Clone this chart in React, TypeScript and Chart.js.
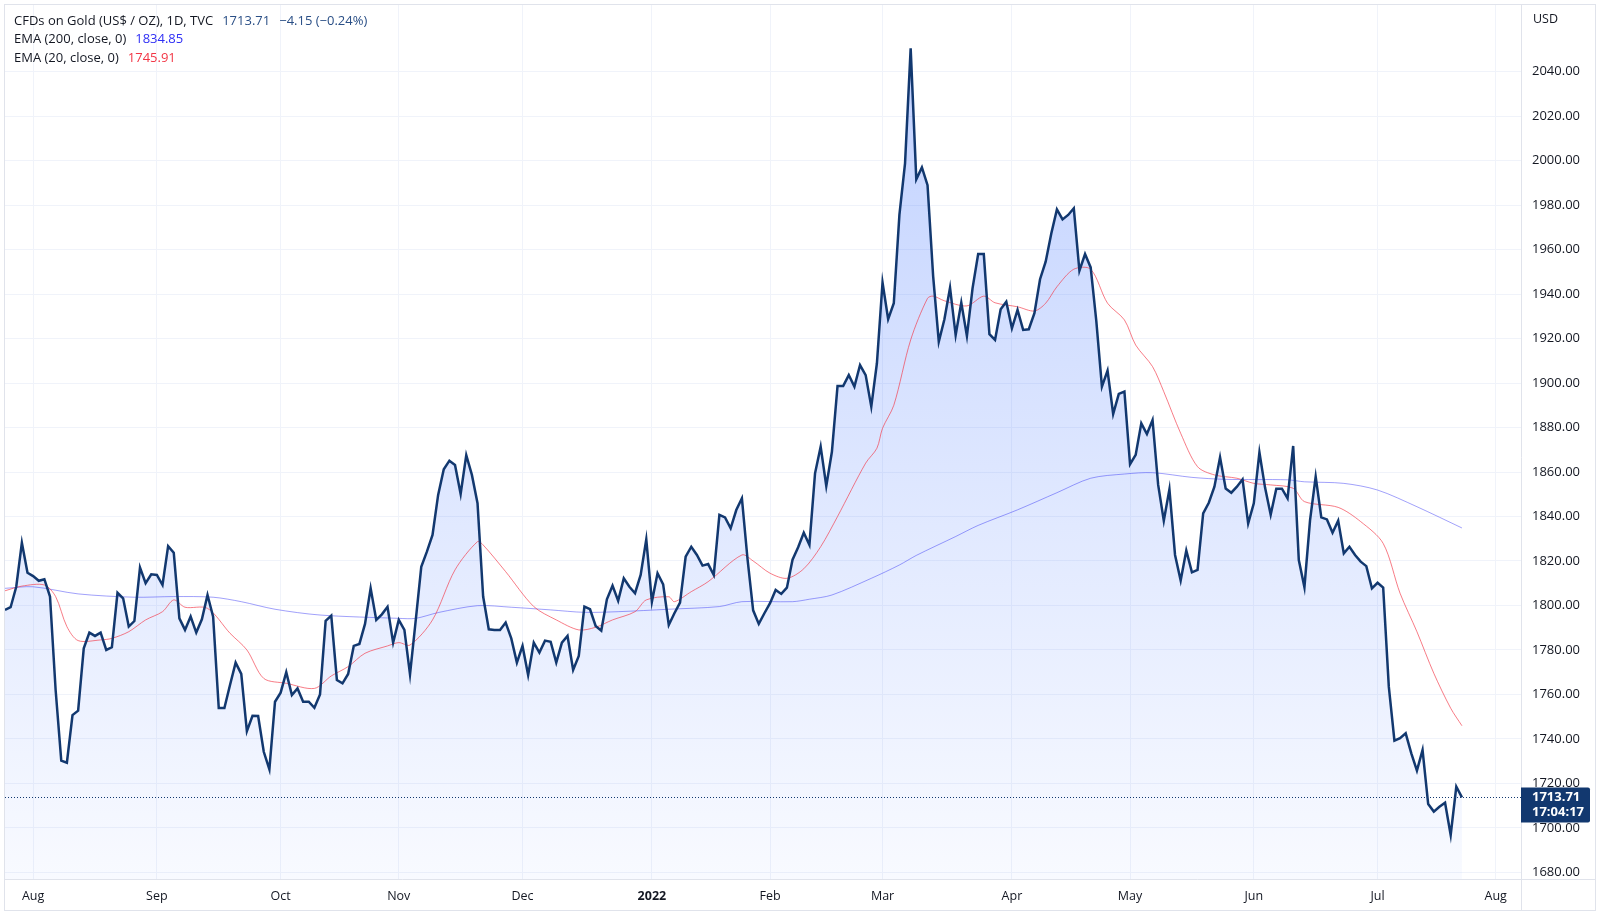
import { useEffect, useRef } from "react";
import { Chart, registerables } from "chart.js";

Chart.register(...registerables);

// ---- data (trading-day index 0 = Mon 2 Aug 2021) ----
const START_DAY = -5;
const closeValues = [
  1798, 1799.2, 1808.4, 1828.2, 1814.7,
  1813.2, 1811.1, 1811.8, 1804, 1762, 1730.2, 1729.3, 1750.7, 1752.7, 1780.7,
  1787.8, 1786.3, 1787.8, 1780, 1781.2, 1805.7, 1803.2, 1790.5, 1793, 1817,
  1810, 1814, 1813.7, 1809.2, 1826.7, 1823.7, 1794.2, 1789, 1795, 1787.8,
  1793.8, 1804.7, 1795, 1753.9, 1753.9, 1764.2, 1774.3, 1769.2, 1743.5, 1750.4,
  1750.3, 1734.2, 1726.3, 1756.7, 1760.8, 1770, 1759.7, 1762.7, 1756.7, 1756.7,
  1754, 1760, 1793.1, 1795.4, 1766.5, 1765, 1769.2, 1781.8, 1782.7, 1791.7,
  1807.7, 1793.5, 1796, 1799.4, 1783.3, 1793.5, 1789, 1769, 1793, 1817.4,
  1824.2, 1831.7, 1849.7, 1861.2, 1865.1, 1863.2, 1850.1, 1867.6, 1858.7, 1846,
  1804, 1789.3, 1789, 1789, 1792.3, 1785.2, 1774.3, 1781.8, 1768.7, 1783.3,
  1778.8, 1784.2, 1783.7, 1774.3, 1783.3, 1786.3, 1771, 1777.3, 1799.5, 1798.3,
  1790.8, 1788.7, 1802.8, 1808.9, 1802.1, 1812.2, 1808.4, 1805.5, 1813.7, 1829.7,
  1801.7, 1814.5, 1809.5, 1791.2, 1796.5, 1801.3, 1821.9, 1826.4, 1822.7, 1817.9,
  1818.6, 1813.7, 1840.7, 1839.6, 1834.7, 1842.9, 1848.2, 1820.8, 1797.8, 1791.7,
  1796.5, 1801, 1807, 1805.2, 1808, 1820.6, 1826.2, 1832.7, 1827.2, 1859.4,
  1871.4, 1853.7, 1869.1, 1898.7, 1898.7, 1903.6, 1898.4, 1908.1, 1903.6, 1889.4,
  1908.9, 1945.2, 1928.7, 1935.9, 1975.6, 1998.8, 2050.5, 1991.6, 1997, 1989,
  1948, 1918.6, 1928.7, 1942.9, 1921.6, 1936.2, 1921.2, 1942.6, 1958, 1958,
  1922, 1919.4, 1933.2, 1936.6, 1924.6, 1932.9, 1923.9, 1924.2, 1931.4, 1946.7,
  1954.6, 1967.3, 1978.1, 1973.6, 1975.6, 1978.6, 1950.5, 1958, 1952, 1928,
  1898.4, 1905.6, 1886.1, 1895.1, 1896.2, 1863.5, 1867.7, 1881.9, 1877.1, 1883.4,
  1854.2, 1838.1, 1852.2, 1822.7, 1811.2, 1824.7, 1814.9, 1816, 1841.4, 1846.2,
  1853.4, 1866.6, 1852.6, 1850.7, 1853.4, 1856.7, 1836.9, 1845.9, 1868.8, 1853,
  1840.8, 1852.5, 1852.5, 1848.2, 1871.7, 1820.4, 1808.2, 1838.4, 1857.9, 1839.6,
  1838.7, 1832.7, 1838.1, 1823.4, 1826.4, 1822.7, 1819.7, 1817.7, 1807.7, 1810.2,
  1808, 1763.5, 1739.2, 1740.3, 1742.5, 1733.5, 1725.7, 1735, 1710.7, 1707.3,
  1709.5, 1711.3, 1696.8, 1718.5, 1713.71,
];

const ema200Days = [-5, 0, 8, 18, 25, 32, 37, 43, 51, 65, 68, 72, 79, 85, 92, 98, 104, 113, 122, 126, 135, 138, 142, 149, 154, 157, 164, 168, 175, 182, 188, 194, 199, 206, 212, 223, 226, 233, 239, 246, 254];
const ema200Values = [1807.7, 1808.4, 1805.2, 1803.7, 1804, 1803.7, 1801.7, 1798.3, 1795.7, 1794.2, 1794.2, 1796.8, 1799.9, 1799.2, 1798, 1796.9, 1797.2, 1798.3, 1799.5, 1801.7, 1801.7, 1802.8, 1804.7, 1812.2, 1818.2, 1822.5, 1831, 1836, 1843, 1850.7, 1857.2, 1859.1, 1859.7, 1857.6, 1856.7, 1856.5, 1855.6, 1854.9, 1851.9, 1844.4, 1834.85];

const ema20Days = [-5, -2, 2, 4, 6, 8, 12, 14, 17, 20, 23, 25, 27, 31, 35, 38, 41, 45, 50, 53, 56, 59, 63, 65, 67, 71, 75, 79, 80, 84, 89, 93, 97, 100, 103, 107, 109, 113, 114, 117, 120, 126, 128, 131, 134, 137, 140, 143, 148, 150, 151, 153, 156, 159, 160, 162, 166, 169, 171, 175, 178, 180, 182, 185, 188, 191, 194, 196, 199, 201, 204, 207, 210, 214, 217, 220, 224, 226, 232, 236, 240, 243, 246, 249, 252, 254];
const ema20Values = [1806.6, 1808.7, 1809.2, 1804, 1790.5, 1784.2, 1784.5, 1785.2, 1788.2, 1793.5, 1797.2, 1802.5, 1799.2, 1798.7, 1787.5, 1780, 1767.2, 1765, 1762.7, 1768.3, 1772.5, 1778.5, 1781.8, 1783.3, 1782.2, 1793.5, 1816, 1828.7, 1827.2, 1815.2, 1799.5, 1793.5, 1789, 1790.2, 1793.5, 1797.2, 1802.5, 1803.9, 1801.7, 1806.2, 1810.7, 1822.7, 1820, 1814.5, 1812.2, 1816.5, 1826.4, 1840, 1864, 1870.7, 1879.7, 1890, 1919.4, 1938.1, 1939.1, 1937, 1934.7, 1939.1, 1936.1, 1934.3, 1932.4, 1935.9, 1943.3, 1951.2, 1951.2, 1935.9, 1928.4, 1917.1, 1907.4, 1896.1, 1877.4, 1862.4, 1858.7, 1857.2, 1854.9, 1854.2, 1852.7, 1846.7, 1844.1, 1837.7, 1827.9, 1805.5, 1788.2, 1769.5, 1753.8, 1745.91];

const monthTickDays = [0, 22, 44, 65, 87, 110, 131, 151, 174, 195, 217, 239, 260];
const monthTickLabels = ["Aug", "Sep", "Oct", "Nov", "Dec", "2022", "Feb", "Mar", "Apr", "May", "Jun", "Jul", "Aug"];
const yearTickDay = 110;
const priceTicks = [1680, 1700, 1720, 1740, 1760, 1780, 1800, 1820, 1840, 1860, 1880, 1900, 1920, 1940, 1960, 1980, 2000, 2020, 2040];

const lastPrice = 1713.71;
const lastTime = "17:04:17";
const titleText = "CFDs on Gold (US$ / OZ), 1D, TVC";
const titlePrice = "1713.71";
const titleChange = "\u22124.15 (\u22120.24%)";
const ema200Text = "EMA (200, close, 0)";
const ema200Last = "1834.85";
const ema20Text = "EMA (20, close, 0)";
const ema20Last = "1745.91";
const currencyText = "USD";

const FONT = '"Open Sans", "Noto Sans", sans-serif';
const TEXT = "#131722";
const NAVY = "#12386f";

const framePlugin = {
  id: "tvFrame",
  beforeDraw(chart: any) {
    const { ctx, width, height } = chart;
    ctx.save();
    ctx.fillStyle = "#ffffff";
    ctx.fillRect(0, 0, width, height);
    ctx.restore();
  },
  afterDraw(chart: any) {
    const { ctx, chartArea, scales } = chart;
    const ys = scales.y;
    ctx.save();
    // borders
    ctx.strokeStyle = "#e0e3eb";
    ctx.lineWidth = 1;
    ctx.strokeRect(4.5, 4.5, 1591, 906);
    ctx.beginPath();
    ctx.moveTo(Math.round(chartArea.right) + 0.5, 4.5);
    ctx.lineTo(Math.round(chartArea.right) + 0.5, 910.5);
    ctx.moveTo(4.5, Math.round(chartArea.bottom) + 0.5);
    ctx.lineTo(1595.5, Math.round(chartArea.bottom) + 0.5);
    ctx.stroke();

    // last price dotted line
    const py = Math.round(ys.getPixelForValue(lastPrice)) + 0.5;
    ctx.strokeStyle = NAVY;
    ctx.setLineDash([1, 2]);
    ctx.beginPath();
    ctx.moveTo(chartArea.left, py);
    ctx.lineTo(chartArea.right, py);
    ctx.stroke();
    ctx.setLineDash([]);

    // price label
    const bx = Math.round(chartArea.right);
    const by = py - 10;
    const bw = 69;
    const bh = 35;
    ctx.fillStyle = NAVY;
    ctx.beginPath();
    ctx.moveTo(bx, by);
    ctx.lineTo(bx + bw - 2, by);
    ctx.quadraticCurveTo(bx + bw, by, bx + bw, by + 2);
    ctx.lineTo(bx + bw, by + bh - 2);
    ctx.quadraticCurveTo(bx + bw, by + bh, bx + bw - 2, by + bh);
    ctx.lineTo(bx, by + bh);
    ctx.closePath();
    ctx.fill();
    ctx.fillStyle = "#ffffff";
    ctx.font = `bold 13px ${FONT}`;
    ctx.textAlign = "left";
    ctx.textBaseline = "middle";
    ctx.fillText(String(lastPrice.toFixed(2)), bx + 11, py);
    ctx.fillText(lastTime, bx + 11, py + 15);

    // currency
    ctx.fillStyle = TEXT;
    ctx.font = `12.5px ${FONT}`;
    ctx.fillText(currencyText, 1533, 19);

    // legend
    const lx = 14;
    const line = (y: number, parts: [string, string, number][]) => {
      let x = lx;
      for (const [t, c, gap] of parts) {
        ctx.fillStyle = c;
        ctx.fillText(t, x, y);
        x += ctx.measureText(t).width + gap;
      }
    };
    ctx.font = `13px ${FONT}`;
    line(21, [[titleText, TEXT, 9], [titlePrice, "#2a4f86", 9], [titleChange, "#2a4f86", 0]]);
    line(39.5, [[ema200Text, TEXT, 9], [ema200Last, "#2f2ff5", 0]]);
    line(58, [[ema20Text, TEXT, 9], [ema20Last, "#f23645", 0]]);
    ctx.restore();
  },
};

export default function App() {
  const ref = useRef<HTMLCanvasElement | null>(null);
  useEffect(() => {
    document.body.style.margin = "0";
    const canvas = ref.current;
    if (!canvas) return;
    const closeData = closeValues.map((v, i) => ({ x: START_DAY + i, y: v }));
    const ema200Data = ema200Days.map((d, i) => ({ x: d, y: ema200Values[i] }));
    const ema20Data = ema20Days.map((d, i) => ({ x: d, y: ema20Values[i] }));
    const chart = new Chart(canvas, {
      type: "line",
      data: {
        datasets: [
          {
            label: "Close",
            data: closeData,
            borderColor: NAVY,
            borderWidth: 2.5,
            pointRadius: 0,
            tension: 0,
            fill: "start",
            backgroundColor: (c: any) => {
              const ch = c.chart;
              const area = ch.chartArea;
              if (!area) return "rgba(41,98,255,0.15)";
              const g = ch.ctx.createLinearGradient(0, area.top, 0, area.bottom);
              g.addColorStop(0, "rgba(41,98,255,0.30)");
              g.addColorStop(1, "rgba(41,98,255,0.03)");
              return g;
            },
          },
          {
            label: "EMA 20",
            data: ema20Data,
            borderColor: "rgba(242,54,69,0.65)",
            borderWidth: 1,
            pointRadius: 0,
            tension: 0.3,
            fill: false,
          },
          {
            label: "EMA 200",
            data: ema200Data,
            borderColor: "rgba(47,47,245,0.45)",
            borderWidth: 1,
            pointRadius: 0,
            tension: 0.3,
            fill: false,
          },
        ],
      },
      options: {
        responsive: false,
        animation: false,
        events: [],
        layout: { padding: { left: 5, top: 5, right: 4, bottom: 7 } },
        plugins: {
          legend: { display: false },
          tooltip: { enabled: false },
          filler: { drawTime: "beforeDatasetsDraw" },
        },
        scales: {
          x: {
            type: "linear",
            min: -5,
            max: 264.5,
            grid: { color: "#f0f3fa", drawTicks: false },
            border: { display: false },
            afterBuildTicks: (s: any) => {
              s.ticks = monthTickDays.map((v) => ({ value: v }));
            },
            afterFit: (s: any) => {
              s.height = 30;
              s.paddingLeft = 0;
              s.paddingRight = 0;
            },
            ticks: {
              autoSkip: false,
              maxRotation: 0,
              padding: 10,
              color: TEXT,
              font: (c: any) => ({
                family: FONT,
                size: 12.5,
                weight: c.tick && c.tick.value === yearTickDay ? "bold" : "normal",
              }),
              callback: (v: any) => {
                const i = monthTickDays.indexOf(Number(v));
                return i >= 0 ? monthTickLabels[i] : "";
              },
            },
          },
          y: {
            type: "linear",
            position: "right",
            min: 1677,
            max: 2070,
            grid: { color: "#f0f3fa", drawTicks: false },
            border: { display: false },
            afterBuildTicks: (s: any) => {
              s.ticks = priceTicks.map((v) => ({ value: v }));
            },
            afterFit: (s: any) => {
              s.width = 75;
              s.paddingTop = 0;
              s.paddingBottom = 0;
            },
            ticks: {
              padding: 11,
              color: TEXT,
              font: { family: FONT, size: 13 },
              callback: (v: any) => Number(v).toFixed(2),
            },
          },
        },
      } as any,
      plugins: [framePlugin],
    });
    return () => chart.destroy();
  }, []);
  return (
    <canvas
      ref={ref}
      width={1600}
      height={916}
      style={{ position: "absolute", left: 0, top: 0, width: 1600, height: 916, display: "block" }}
    />
  );
}
